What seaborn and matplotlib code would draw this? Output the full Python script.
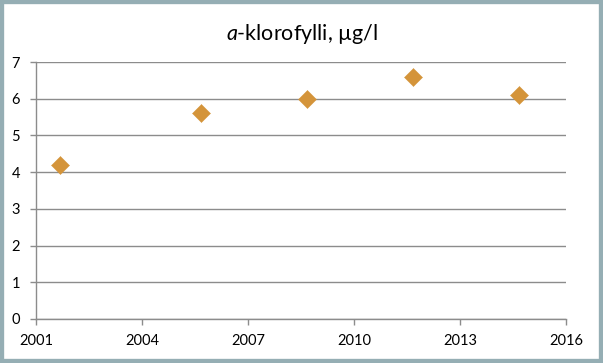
import matplotlib
matplotlib.use("Agg")
import matplotlib.pyplot as plt
import seaborn as sns
import pandas as pd
from matplotlib.patches import Rectangle

years = [2001.67, 2005.67, 2008.67, 2011.67, 2014.67]
values = [4.2, 5.6, 6.0, 6.6, 6.1]
xticks = [2001, 2004, 2007, 2010, 2013, 2016]
yticks = [0, 1, 2, 3, 4, 5, 6, 7]

sns.set_theme(style="white")
plt.rcParams['font.family'] = ['Lato', 'DejaVu Sans']
plt.rcParams['mathtext.fontset'] = 'custom'
plt.rcParams['mathtext.it'] = 'Lato:italic'
plt.rcParams['mathtext.rm'] = 'Lato'

df = pd.DataFrame({"year": years, "value": values})

fig = plt.figure(figsize=(6.03, 3.63), dpi=100)
fig.patch.set_facecolor("white")
ax = fig.add_axes([36/603, 44/363, 530/603, 257/363])

sns.scatterplot(data=df, x="year", y="value", marker="D", s=85, color="#D4943A",
                edgecolor="#D4943A", linewidth=0.3, ax=ax, zorder=3)

ax.set_xlim(2001, 2016)
ax.set_ylim(0, 7)
ax.set_xticks(xticks)
ax.set_yticks(yticks)
ax.set_xticklabels([str(t) for t in xticks], fontsize=10.5, color="#000000")
ax.set_yticklabels([str(t) for t in yticks], fontsize=10.5, color="#000000")
ax.set_xlabel("")
ax.set_ylabel("")
ax.yaxis.grid(True, color="#8C8C8C", linewidth=1.0)
ax.xaxis.grid(False)
for s in ["top", "right"]:
    ax.spines[s].set_visible(False)
for s in ["left", "bottom"]:
    ax.spines[s].set_color("#8C8C8C")
    ax.spines[s].set_linewidth(1.0)
ax.tick_params(axis="both", which="major", length=4.5, width=1, color="#8C8C8C",
               direction="out", bottom=True, left=True)
ax.tick_params(axis="y", pad=7)
ax.tick_params(axis="x", pad=6)

fig.text(0.5, 1 - 34/363, r"$\mathit{a}$-klorofylli, µg/l", ha="center", va="center",
         fontsize=15.5, color="#000000")

fig.patches.append(Rectangle((0, 0), 1, 1, transform=fig.transFigure, fill=False,
                             edgecolor="#95AEB4", linewidth=6, zorder=10))

fig.savefig("out.png", dpi=100)
